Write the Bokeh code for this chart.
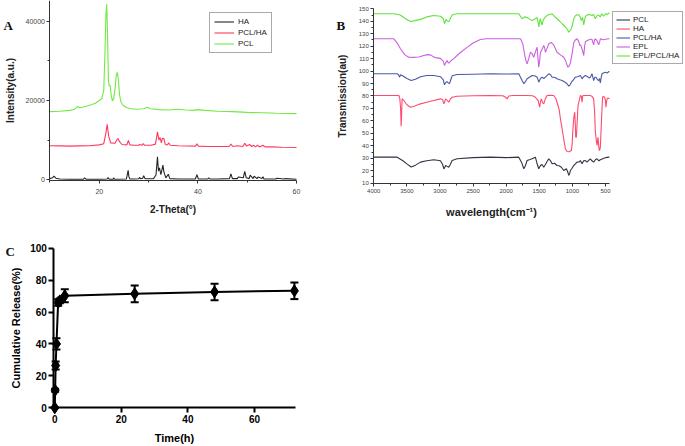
from bokeh.plotting import figure
from bokeh.models import (Range1d, Legend, LegendItem, Label, Whisker, TeeHead,
                          ColumnDataSource, FixedTicker)
from bokeh.layouts import column, row
from bokeh.embed import file_html
from bokeh.resources import INLINE

SANS = "Liberation Sans"
SERIF = "Liberation Serif"

# ---------------- Panel A : XRD (2-theta, intensity) ----------------
xrd_ha = [(10, 300), (10.5, 500), (10.8, 900), (11.2, 400), (12, 200), (14, 150), (16.8, 150),
          (17.0, 500), (17.3, 150), (20, 150), (21.6, 200), (21.8, 550), (22.0, 150), (22.8, 150),
          (22.9, 500), (23.1, 150), (25.5, 200), (25.85, 2400), (26.0, 800), (26.2, 200), (27, 200),
          (28.0, 250), (28.15, 600), (28.4, 250), (28.8, 400), (29.0, 1000), (29.3, 250), (31.0, 300),
          (31.5, 1200), (31.8, 5800), (32.0, 2200), (32.2, 3000), (32.5, 1300), (32.9, 3700),
          (33.1, 2000), (33.5, 500), (34.0, 1400), (34.3, 300), (36, 200), (39.5, 200), (39.8, 1300),
          (40.1, 200), (42, 200), (42.2, 500), (42.4, 200), (44, 200), (46.4, 300), (46.7, 1500),
          (47.0, 300), (48.0, 300), (48.2, 700), (49.2, 500), (49.5, 2100), (49.8, 500), (50.4, 300),
          (50.6, 1200), (51.2, 300), (51.4, 900), (52.0, 300), (52.2, 700), (53.0, 300), (53.2, 800),
          (53.4, 200), (55.8, 200), (56.0, 400), (57.5, 200), (57.7, 300), (60, 150)]
xrd_pcl_ha = [(10, 8600), (12, 8550), (14, 8500), (16, 8550), (18, 8600), (20, 8800), (20.9, 9100),
              (21.3, 11500), (21.6, 14000), (21.9, 11000), (22.3, 9300), (23.2, 9200), (23.6, 10200),
              (23.8, 10400), (24.1, 9600), (24.6, 8900), (25.6, 8800), (25.9, 9900), (26.2, 8800),
              (27, 8700), (28.0, 8700), (28.2, 8900), (28.6, 8700), (28.9, 9100), (29.2, 8700),
              (30.5, 8700), (31.4, 9000), (31.8, 12100), (32.1, 10000), (32.3, 10700), (32.6, 9300),
              (32.8, 10500), (33.1, 10400), (33.4, 8900), (33.8, 8800), (34.1, 9300), (34.4, 8700),
              (36, 8600), (39.5, 8500), (39.8, 9100), (40.1, 8500), (42, 8400), (44, 8400), (46.3, 8400),
              (46.7, 9000), (47.1, 8400), (48.0, 8600), (49.1, 8400), (49.5, 9200), (49.9, 8500),
              (50.5, 8900), (50.9, 8400), (51.3, 8700), (51.7, 8300), (52.1, 8700), (52.5, 8300),
              (53.2, 8700), (53.6, 8300), (55, 8300), (57, 8200), (60, 8150)]
xrd_pcl = [(10, 17200), (12, 17300), (14, 17500), (15.0, 17800), (15.6, 18500), (16.0, 18200),
           (16.6, 18300), (17.5, 18600), (18.5, 19000), (19.2, 19300), (20.0, 20000), (20.5, 20500),
           (20.9, 22500), (21.15, 32000), (21.35, 42000), (21.5, 44300), (21.65, 38000), (21.85, 25000),
           (22.0, 23700), (22.2, 23800), (22.4, 21500), (22.65, 19900), (22.9, 20400), (23.2, 23000),
           (23.45, 26500), (23.65, 27100), (23.85, 25500), (24.1, 21500), (24.4, 19600), (24.8, 18800),
           (25.4, 18300), (26.2, 18000), (27.5, 17800), (29.0, 17900), (29.7, 18300), (30.4, 17900),
           (32, 17700), (34, 17600), (36, 17800), (37.5, 17600), (39, 17500), (40, 17700), (41.5, 17500),
           (44, 17300), (47, 17200), (50, 17000), (53, 16900), (56, 16800), (60, 16700)]

# ---------------- Panel B : FTIR (wavenumber, transmission) ----------------
ftir_pcl = [(4000, 30.9), (3647, 30.9), (3560, 28), (3500, 25.5), (3436, 23), (3370, 24.5), (3295, 26.9),
            (3200, 28), (3094, 28.8), (2993, 28), (2960, 25), (2942, 21.5), (2925, 23), (2917, 24.2),
            (2890, 23.5), (2867, 22.8), (2845, 25), (2817, 28.2), (2742, 29.6), (2500, 30.5), (2239, 30.9),
            (2000, 30.5), (1810, 30.9), (1769, 26.9), (1734, 21.6), (1710, 24), (1684, 28.2), (1640, 29),
            (1609, 29.6), (1559, 30.9), (1533, 25.6), (1508, 21.6), (1483, 24.2), (1458, 25), (1433, 22.8),
            (1408, 25), (1383, 27.4), (1357, 29.6), (1330, 28), (1307, 25.6), (1270, 26), (1232, 24.2),
            (1200, 24), (1166, 22.8), (1131, 20.2), (1091, 21.6), (1070, 19), (1055, 16.2), (1040, 18),
            (1030, 20.2), (1005, 22), (980, 24.2), (955, 25.5), (930, 26.9), (900, 27), (880, 28.2),
            (854, 25.6), (830, 28), (804, 28.2), (779, 26.9), (750, 28.5), (729, 29.6), (704, 28),
            (679, 26.9), (650, 29), (628, 29.6), (600, 28), (578, 28.8), (550, 29.5), (528, 30.1),
            (500, 30.5), (452, 30.9), (440, 31)]
ftir_ha = [(4000, 80.4), (3622, 80.4), (3607, 78), (3595, 70), (3587, 55.8), (3580, 65), (3572, 77.7),
           (3547, 76.4), (3500, 73), (3446, 71), (3380, 72), (3295, 73.7), (3200, 75), (3094, 76.4),
           (2993, 77.7), (2960, 77), (2942, 73.7), (2925, 76), (2917, 77.7), (2890, 76.5), (2867, 75),
           (2845, 77.5), (2817, 79), (2742, 79.8), (2500, 80.2), (2239, 80.4), (2050, 80.2), (2010, 79),
           (1986, 77.7), (1960, 80), (1900, 80.4), (1700, 80.4), (1600, 80.2), (1559, 79), (1530, 77),
           (1518, 76.4), (1494, 71), (1480, 76), (1468, 77.7), (1450, 74.5), (1433, 73.7), (1410, 77.5),
           (1383, 80.4), (1330, 80.5), (1282, 80.4), (1250, 78), (1232, 75), (1200, 69), (1181, 61.7),
           (1150, 52), (1131, 45.6), (1106, 37.6), (1081, 35.4), (1050, 35.2), (1015, 36.2), (1003, 42),
           (995, 50.9), (980, 62), (965, 67), (958, 60), (950, 47), (940, 46.9), (915, 72), (880, 80.4),
           (865, 79.8), (854, 75), (845, 79.8), (839, 80.4), (804, 80.4), (760, 80.4), (729, 80.4),
           (700, 79.5), (679, 77.7), (665, 68), (653, 50.9), (640, 45), (628, 40.3), (620, 44),
           (613, 46.9), (603, 40), (593, 36.2), (585, 37), (578, 38.9), (565, 55), (553, 69.7),
           (545, 78), (538, 79.8), (513, 79), (500, 76), (493, 71), (485, 75), (477, 77.7), (460, 78.5),
           (452, 78), (440, 78)]
ftir_pcl_ha = [(4000, 97.8), (3647, 97.8), (3625, 97), (3612, 95.1), (3595, 97), (3572, 96.4), (3500, 94),
               (3436, 92.4), (3370, 93.5), (3295, 95.5), (3200, 96.5), (3094, 96.4), (2993, 95.5),
               (2950, 93), (2932, 89), (2910, 91), (2893, 91.5), (2875, 90.5), (2857, 90), (2830, 94),
               (2817, 96.2), (2742, 97.2), (2500, 97.5), (2239, 97.8), (2000, 97.6), (1810, 97.8),
               (1760, 92.4), (1734, 89.8), (1710, 91.5), (1684, 93.8), (1650, 95), (1609, 96.4), (1560, 96),
               (1533, 95.1), (1508, 91.1), (1483, 94), (1458, 95.1), (1430, 94), (1408, 95.1), (1357, 97.8),
               (1330, 97), (1307, 95.1), (1270, 95), (1232, 93.8), (1190, 93), (1156, 92.4), (1110, 91),
               (1081, 89.8), (1055, 87.9), (1035, 89), (1015, 91.1), (985, 93), (955, 95.1), (920, 95.5),
               (880, 96.4), (854, 93.8), (830, 95.5), (804, 96.4), (770, 95.5), (750, 94.5), (729, 95.1),
               (704, 97.8), (690, 95), (679, 92.4), (660, 95), (643, 95.1), (620, 93), (603, 92.4),
               (590, 94), (578, 90.6), (565, 95), (553, 97.8), (530, 98.5), (503, 99.1), (470, 98.5),
               (452, 99.6), (440, 99.5)]
ftir_epl = [(4000, 125.9), (3698, 125.9), (3640, 122), (3597, 117.9), (3530, 113), (3471, 111.1),
            (3400, 111), (3320, 111.3), (3245, 112.5), (3190, 113.2), (3144, 113), (3100, 111.5),
            (3069, 110.8), (2993, 110.2), (2950, 108), (2932, 104.5), (2910, 107), (2893, 108.5),
            (2875, 106.5), (2857, 106.8), (2830, 108.5), (2792, 110), (2700, 114.5), (2591, 119),
            (2500, 122.5), (2390, 125.4), (2300, 126), (2100, 126), (1900, 126), (1784, 125.9),
            (1750, 122), (1719, 112.5), (1700, 108), (1684, 105.8), (1660, 110), (1634, 115.1),
            (1610, 114), (1584, 111.1), (1555, 116), (1533, 119.1), (1520, 110), (1508, 103.1),
            (1495, 108), (1483, 115), (1460, 117), (1433, 120.5), (1420, 119), (1408, 115.1),
            (1385, 118), (1357, 121.9), (1320, 123), (1282, 121), (1232, 115.1), (1180, 113),
            (1131, 111.1), (1100, 108), (1075, 104), (1066, 103.1), (1050, 104), (1030, 106.5),
            (1005, 114), (980, 122.7), (955, 125), (930, 125.9), (905, 124), (889, 120.5), (875, 121),
            (864, 119.1), (845, 116), (829, 112.5), (815, 120), (804, 123.5), (760, 125), (720, 125.5),
            (704, 125.5), (690, 123), (679, 121), (665, 125), (653, 125.9), (625, 124), (603, 121),
            (590, 123), (578, 125.9), (540, 125.2), (500, 125.5), (452, 125.9), (440, 126)]
ftir_epl_pcl_ha = [(4000, 146), (3700, 146), (3600, 145), (3520, 142), (3446, 139.8), (3380, 140.5),
                   (3295, 141.5), (3200, 143.5), (3094, 144.6), (2993, 144), (2950, 142), (2932, 138),
                   (2910, 141.5), (2893, 140.5), (2867, 139.5), (2845, 142), (2817, 145), (2742, 146),
                   (2500, 146), (2239, 146), (2000, 146), (1810, 146), (1760, 142), (1720, 143.5),
                   (1684, 143), (1640, 141.5), (1609, 140.6), (1560, 142), (1533, 143), (1515, 138),
                   (1508, 135.5), (1495, 140), (1483, 142), (1470, 139), (1458, 137), (1440, 141),
                   (1408, 143.5), (1370, 145), (1307, 146), (1270, 144), (1232, 142), (1190, 140),
                   (1156, 138), (1100, 135), (1070, 133), (1055, 131.2), (1040, 132), (1015, 134),
                   (995, 138), (980, 142), (955, 144.5), (930, 145.2), (900, 145), (880, 143),
                   (864, 140.6), (845, 143), (829, 137), (815, 141), (804, 144), (760, 145.5), (720, 145),
                   (704, 144.6), (680, 145.5), (653, 142), (630, 144.5), (603, 145), (580, 143.5),
                   (555, 146), (528, 144), (500, 146), (470, 145.5), (452, 146.5), (440, 146.5)]

# ---------------- Panel C : cumulative release ----------------
time_h = [0, 0.1, 0.25, 0.5, 1, 1.5, 3, 24, 48, 72]
release = [0, 11, 26.5, 40, 66, 67, 70.2, 71.4, 72.6, 73.3]
release_err = [0, 1, 2.5, 3.5, 2, 1.5, 4, 5.2, 5.2, 5.2]


def unzip(pairs):
    return [p[0] for p in pairs], [p[1] for p in pairs]


def bare_figure(w, h, xr, yr):
    p = figure(width=w, height=h, x_range=xr, y_range=yr, output_backend="svg",
               toolbar_location=None, min_border_left=0, min_border_right=0,
               min_border_top=0, min_border_bottom=0)
    p.outline_line_color = None
    p.grid.visible = False
    p.background_fill_color = "white"
    p.border_fill_color = "white"
    return p


def style_small_axes(p, tick_size):
    for ax in (p.xaxis[0], p.yaxis[0]):
        ax.axis_line_color = "#333333"
        ax.major_tick_line_color = "#333333"
        ax.minor_tick_line_color = "#333333"
        ax.major_tick_in = 0
        ax.major_tick_out = 3
        ax.minor_tick_in = 0
        ax.minor_tick_out = 2
        ax.major_label_text_font = SANS
        ax.major_label_text_font_size = tick_size
        ax.major_label_text_color = "#444444"
        ax.major_label_standoff = 2
        ax.axis_label_text_font = SANS
        ax.axis_label_text_font_style = "bold"
        ax.axis_label_text_color = "#222222"


def panel_letter(p, x, y, txt):
    p.add_layout(Label(x=x, y=y, x_units="screen", y_units="screen", text=txt,
                       text_font=SERIF, text_font_style="bold", text_font_size="13px",
                       text_baseline="top", text_color="#111111"))


# ---------- A ----------
pA = bare_figure(335, 222, Range1d(-0.04, 67.91), Range1d(-10770, 45220))
style_small_axes(pA, "7px")
pA.xaxis.fixed_location = -200
pA.yaxis.fixed_location = 10
pA.xaxis.bounds = (10, 60)
pA.yaxis.bounds = (-200, 45220)
pA.xaxis.ticker = FixedTicker(ticks=[20, 40, 60], minor_ticks=[10, 30, 50])
pA.yaxis.ticker = FixedTicker(ticks=[0, 20000, 40000], minor_ticks=[10000, 30000])
pA.xaxis.major_label_standoff = 5
pA.xaxis.axis_label = "2-Theta(°)"
pA.yaxis.axis_label = "Intensity(a.u.)"
pA.xaxis.axis_label_text_font_size = "10px"
pA.yaxis.axis_label_text_font_size = "10px"
pA.xaxis.axis_label_standoff = 7
pA.yaxis.axis_label_standoff = 6

a_items = []
for name, data, color in [("HA", xrd_ha, "#262626"), ("PCL/HA", xrd_pcl_ha, "#ff3a5c"),
                          ("PCL", xrd_pcl, "#72ea44")]:
    xs, ys = unzip(data)
    r = pA.line(xs, ys, line_color=color, line_width=1.1)
    a_items.append(LegendItem(label=name, renderers=[r]))
legA = Legend(items=a_items, location=(209, 169), margin=0, padding=4, spacing=2,
              glyph_width=20, glyph_height=9, label_height=9, label_standoff=4,
              label_text_font=SANS, label_text_font_size="8px", label_text_color="#222222",
              border_line_color="#555555", border_line_width=1, background_fill_alpha=1)
pA.add_layout(legA)
panel_letter(pA, 3, 205, "A")

# ---------- B ----------
pB = bare_figure(350, 222, Range1d(4578.5, -708.5), Range1d(-21.55, 156.66))
style_small_axes(pB, "6px")
pB.xaxis.fixed_location = 10
pB.yaxis.fixed_location = 4000
pB.xaxis.bounds = (440, 4000)
pB.yaxis.bounds = (10, 150)
pB.xaxis.ticker = FixedTicker(ticks=[4000, 3500, 3000, 2500, 2000, 1500, 1000, 500],
                              minor_ticks=[3750, 3250, 2750, 2250, 1750, 1250, 750])
pB.yaxis.ticker = FixedTicker(ticks=list(range(10, 151, 10)), minor_ticks=list(range(15, 150, 10)))
pB.xaxis.major_label_standoff = 3
pB.xaxis.axis_label = "wavelength(cm⁻¹)"
pB.yaxis.axis_label = "Transmission(au)"
pB.xaxis.axis_label_text_font_size = "11px"
pB.yaxis.axis_label_text_font_size = "10px"
pB.xaxis.axis_label_standoff = 9
pB.yaxis.axis_label_standoff = 7

b_items = []
for name, data, color in [("PCL", ftir_pcl, "#333344"), ("HA", ftir_ha, "#ff4a6e"),
                          ("PCL/HA", ftir_pcl_ha, "#4a58a8"), ("EPL", ftir_epl, "#cc5ee0"),
                          ("EPL/PCL/HA", ftir_epl_pcl_ha, "#5ee43c")]:
    xs, ys = unzip(data)
    r = pB.line(xs, ys, line_color=color, line_width=1.1)
    b_items.append(LegendItem(label=name, renderers=[r]))
legB = Legend(items=b_items, location=(277, 158), margin=0, padding=3, spacing=0,
              glyph_width=14, glyph_height=9, label_height=9, label_standoff=3,
              label_text_font=SANS, label_text_font_size="8px", label_text_color="#222222",
              border_line_color="#555555", border_line_width=1)
pB.add_layout(legB)
panel_letter(pB, 1, 205, "B")

# ---------- C ----------
pC = bare_figure(335, 224, Range1d(-16.32, 84.35), Range1d(-24.25, 116.1))
pC.xaxis.fixed_location = 0
pC.yaxis.fixed_location = -0.3
pC.xaxis.bounds = (-0.3, 72.3)
pC.yaxis.bounds = (0, 100)
for ax in (pC.xaxis[0], pC.yaxis[0]):
    ax.axis_line_color = "black"
    ax.axis_line_width = 2
    ax.major_tick_line_color = "black"
    ax.major_tick_line_width = 2
    ax.major_tick_in = 0
    ax.major_tick_out = 5
    ax.minor_tick_line_color = None
    ax.major_label_text_font = SANS
    ax.major_label_text_font_style = "bold"
    ax.major_label_text_font_size = "10px"
    ax.major_label_text_color = "black"
    ax.major_label_standoff = 2
    ax.axis_label_text_font = SANS
    ax.axis_label_text_font_style = "bold"
    ax.axis_label_text_font_size = "11px"
    ax.axis_label_text_color = "black"
pC.xaxis.axis_label_standoff = 6
pC.yaxis.axis_label_standoff = 5
pC.xaxis.ticker = FixedTicker(ticks=[0, 20, 40, 60])
pC.yaxis.ticker = FixedTicker(ticks=[0, 20, 40, 60, 80, 100])
pC.xaxis.axis_label = "Time(h)"
pC.yaxis.axis_label = "Cumulative Release(%)"

srcC = ColumnDataSource(dict(t=time_h, r=release,
                             lo=[v - e for v, e in zip(release, release_err)],
                             hi=[v + e for v, e in zip(release, release_err)]))
pC.line("t", "r", source=srcC, line_color="black", line_width=2)
pC.add_layout(Whisker(base="t", lower="lo", upper="hi", source=srcC, line_color="black",
                      line_width=2,
                      lower_head=TeeHead(size=8, line_width=2, line_color="black"),
                      upper_head=TeeHead(size=8, line_width=2, line_color="black")))
pC.scatter("t", "r", source=srcC, marker="diamond", size=12, fill_color="black",
           line_color="black")
panel_letter(pC, 5, 203, "C")

layout = column(row(pA, pB), pC)
open("out.html", "w").write(file_html(layout, INLINE))
